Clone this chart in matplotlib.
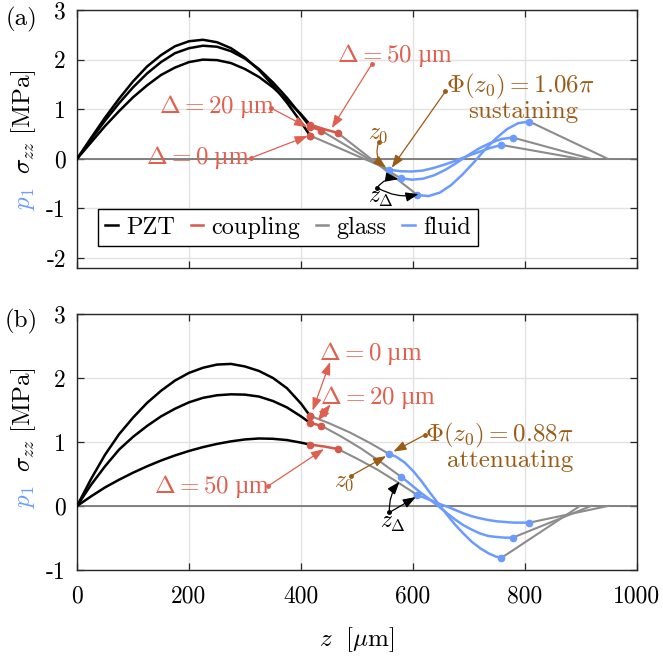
import matplotlib.pyplot as plt
from matplotlib.lines import Line2D

plt.rcParams['font.family'] = ['cmr10', 'DejaVu Serif']
plt.rcParams['mathtext.fontset'] = 'cm'
plt.rcParams['axes.unicode_minus'] = False

# ---------------- data (a) sustaining ----------------
z_pzt = [0, 25, 50, 75, 100, 125, 150, 175, 200, 225, 250, 275, 300, 325, 350, 375, 400, 416]
a_pzt_d0 = [0, 0.42, 0.83, 1.21, 1.56, 1.86, 2.09, 2.27, 2.37, 2.40, 2.35, 2.23, 2.04, 1.79, 1.48, 1.13, 0.74, 0.47]
a_pzt_d20 = [0, 0.39, 0.77, 1.12, 1.44, 1.72, 1.95, 2.13, 2.23, 2.28, 2.26, 2.17, 2.02, 1.81, 1.54, 1.23, 0.88, 0.65]
a_pzt_d50 = [0, 0.33, 0.66, 0.96, 1.24, 1.48, 1.69, 1.84, 1.95, 2.00, 1.99, 1.93, 1.81, 1.65, 1.44, 1.18, 0.90, 0.69]

a_coup_z = [[416, 416], [416, 436], [416, 441, 466]]
a_coup = [[0.47, 0.47], [0.65, 0.57], [0.69, 0.60, 0.52]]

a_glass1_z = [[416, 558], [436, 578], [466, 608]]
a_glass1 = [[0.47, -0.22], [0.57, -0.39], [0.52, -0.73]]

a_fluid_z = [[558, 578, 598, 618, 638, 658, 678, 698, 718, 738, 758],
             [578, 598, 618, 638, 658, 678, 698, 718, 738, 758, 778],
             [608, 628, 648, 668, 688, 708, 728, 748, 768, 788, 808]]
a_fluid = [[-0.22, -0.25, -0.255, -0.235, -0.18, -0.11, -0.03, 0.06, 0.14, 0.22, 0.28],
           [-0.39, -0.42, -0.40, -0.33, -0.22, -0.08, 0.07, 0.21, 0.32, 0.40, 0.43],
           [-0.73, -0.75, -0.68, -0.53, -0.32, -0.08, 0.18, 0.41, 0.60, 0.72, 0.75]]

a_glass2_z = [[758, 898], [778, 918], [808, 948]]
a_glass2 = [[0.28, 0], [0.43, 0], [0.75, 0]]

# ---------------- data (b) attenuating ----------------
b_pzt_d0 = [0, 0.42, 0.80, 1.12, 1.38, 1.61, 1.80, 1.96, 2.08, 2.16, 2.21, 2.22, 2.18, 2.11, 2.00, 1.84, 1.60, 1.41]
b_pzt_d20 = [0, 0.33, 0.62, 0.88, 1.08, 1.25, 1.40, 1.52, 1.62, 1.69, 1.73, 1.745, 1.74, 1.71, 1.64, 1.54, 1.40, 1.30]
b_pzt_d50 = [0, 0.15, 0.29, 0.41, 0.52, 0.62, 0.71, 0.79, 0.86, 0.92, 0.97, 1.01, 1.04, 1.055, 1.05, 1.03, 0.99, 0.96]

b_coup_z = [[416, 416], [416, 436], [416, 441, 466]]
b_coup = [[1.41, 1.41], [1.30, 1.255], [0.96, 0.93, 0.89]]

b_glass1_z = [[416, 451, 487, 522, 558], [436, 471, 507, 542, 578], [466, 501, 537, 572, 608]]
b_glass1 = [[1.41, 1.29, 1.15, 0.99, 0.81], [1.255, 1.09, 0.90, 0.69, 0.46], [0.89, 0.735, 0.565, 0.375, 0.17]]

b_fluid_z = [[558, 570, 585, 600, 615, 630, 645, 660, 675, 690, 705, 720, 735, 748, 758],
             [578, 590, 601, 615, 631, 645, 661, 675, 690, 705, 720, 735, 750, 765, 778],
             [608, 620, 631, 645, 661, 675, 690, 705, 720, 735, 750, 765, 780, 795, 808]]
b_fluid = [[0.81, 0.77, 0.68, 0.55, 0.39, 0.21, 0.04, -0.13, -0.29, -0.43, -0.56, -0.66, -0.74, -0.79, -0.81],
           [0.46, 0.38, 0.30, 0.20, 0.094, 0.0, -0.115, -0.21, -0.30, -0.37, -0.43, -0.47, -0.485, -0.495, -0.495],
           [0.17, 0.13, 0.094, 0.04, -0.01, -0.06, -0.115, -0.16, -0.193, -0.22, -0.24, -0.25, -0.26, -0.26, -0.26]]

b_glass2_z = [[758, 898], [778, 918], [808, 948]]
b_glass2 = [[-0.81, 0], [-0.495, 0], [-0.26, 0]]

x_ticks = [0, 200, 400, 600, 800, 1000]
a_yticks = [-2, -1, 0, 1, 2, 3]
b_yticks = [-1, 0, 1, 2, 3]

c_coup = '#d6584a'
c_glass = '#8c8c8c'
c_fluid = '#6b9bff'
c_red = '#e0604f'
c_brown = '#9a5b16'
um_font = 'Liberation Serif'   # has an upright micro sign


def draw_panel(ax, pzt, coup_z, coup, g1_z, g1, fl_z, fl, g2_z, g2):
    ax.axhline(0, color='#6e6e6e', lw=1.2, zorder=1.5)
    for i in range(3):
        ax.plot(g1_z[i], g1[i], color=c_glass, lw=1.5, zorder=2)
        ax.plot(g2_z[i], g2[i], color=c_glass, lw=1.5, zorder=2)
        ax.plot(z_pzt, pzt[i], color='black', lw=1.8, zorder=3)
        ax.plot(fl_z[i], fl[i], color=c_fluid, lw=1.8, zorder=3,
                marker='o', ms=4.5, markevery=[0, len(fl_z[i]) - 1])
        ax.plot(coup_z[i], coup[i], color=c_coup, lw=1.8, zorder=4,
                marker='o', ms=4.5, markevery=[0, len(coup_z[i]) - 1])


def style_axes(ax, yticks, ylim):
    ax.set_xlim(0, 1000)
    ax.set_ylim(*ylim)
    ax.set_xticks(x_ticks)
    ax.set_yticks(yticks)
    ax.set_yticklabels([str(t) for t in yticks])
    ax.grid(True, color='#e2e2e2', lw=1.0, zorder=0)
    ax.set_axisbelow(True)
    ax.tick_params(direction='in', top=True, right=True, length=5, width=0.9,
                   labelsize=17, color='#262626')
    ax.tick_params(axis='y', pad=8)
    for s in ax.spines.values():
        s.set_color('#262626')
        s.set_linewidth(1.0)


def delta_label(ax, x, y, d):
    ax.text(x, y, r'$\Delta = %d$ µm' % d, color=c_red, fontsize=18,
            family=um_font, ha='center', va='center')


def arrow(ax, tail, head, color, rad=0.0, dot=True, both=False, lw=0.9):
    style = '<|-|>' if both else '-|>'
    ax.annotate('', xy=head, xytext=tail,
                arrowprops=dict(arrowstyle=style + ',head_length=0.55,head_width=0.2',
                                color=color, lw=lw, shrinkA=0, shrinkB=0,
                                mutation_scale=14,
                                connectionstyle='arc3,rad=%g' % rad),
                zorder=6)
    if dot:
        ax.plot(tail[0], tail[1], 'o', color=color, ms=2.5, zorder=6)


fig = plt.figure(figsize=(6.63, 6.56), dpi=100)
W, H = 663, 656
ax1 = fig.add_axes([77 / W, 1 - 268 / H, 560 / W, 258 / H])
ax2 = fig.add_axes([77 / W, 1 - 570 / H, 560 / W, 256 / H])

fs = 18

# ---------- panel (a) ----------
draw_panel(ax1, [a_pzt_d0, a_pzt_d20, a_pzt_d50], a_coup_z, a_coup,
           a_glass1_z, a_glass1, a_fluid_z, a_fluid, a_glass2_z, a_glass2)
style_axes(ax1, a_yticks, (-2.2, 3))
ax1.set_xticklabels([])

delta_label(ax1, 568, 2.08, 50)
delta_label(ax1, 249, 1.05, 20)
delta_label(ax1, 216, 0.03, 0)
arrow(ax1, (527, 1.92), (455, 0.62), c_red)
arrow(ax1, (347, 1.02), (411, 0.64), c_red)
arrow(ax1, (311, 0.02), (412, 0.46), c_red)

ax1.text(792, 1.46, r'$\Phi(z_0) = 1.06\pi$', color=c_brown, fontsize=fs, ha='center', va='center')
ax1.text(797, 0.95, 'sustaining', color=c_brown, fontsize=fs, ha='center', va='center')
arrow(ax1, (658, 1.36), (562, -0.18), c_brown)
ax1.text(538, 0.50, r'$z_0$', color=c_brown, fontsize=17, ha='center', va='center')
arrow(ax1, (538.6, 0.33), (552, -0.18), c_brown, rad=0.35)

ax1.text(543, -0.78, r'$z_\Delta$', color='black', fontsize=17, ha='center', va='center')
arrow(ax1, (536, -0.58), (574, -0.41), 'black', rad=-0.3)
arrow(ax1, (536, -0.58), (610, -0.71), 'black', rad=0.2, dot=False)

handles = [Line2D([], [], color='black', lw=1.8),
           Line2D([], [], color=c_coup, lw=1.8),
           Line2D([], [], color=c_glass, lw=1.8),
           Line2D([], [], color=c_fluid, lw=1.8)]
leg = ax1.legend(handles, ['PZT', 'coupling', 'glass', 'fluid'], ncol=4,
                 loc='lower left', bbox_to_anchor=(0.0376, 0.085), borderaxespad=0,
                 fontsize=17.5, handlelength=0.5, handletextpad=0.35, columnspacing=0.65,
                 borderpad=0.3, fancybox=False, framealpha=1, edgecolor='black')
leg.get_frame().set_linewidth(1.0)
leg.set_zorder(7)

# ---------- panel (b) ----------
draw_panel(ax2, [b_pzt_d0, b_pzt_d20, b_pzt_d50], b_coup_z, b_coup,
           b_glass1_z, b_glass1, b_fluid_z, b_fluid, b_glass2_z, b_glass2)
style_axes(ax2, b_yticks, (-1, 3))
ax2.tick_params(axis='x', pad=11)
ax2.set_xlabel(r'$z\ \ [\mu\mathrm{m}]$', fontsize=18, labelpad=13)

delta_label(ax2, 525, 2.39, 0)
delta_label(ax2, 538, 1.70, 20)
delta_label(ax2, 240, 0.31, 50)
arrow(ax2, (452, 2.25), (420.6, 1.49), c_red, dot=False, both=True)
arrow(ax2, (453, 1.59), (429.5, 1.33), c_red, dot=False, both=True)
arrow(ax2, (341, 0.31), (441, 0.89), c_red)

ax2.text(754, 1.11, r'$\Phi(z_0) = 0.88\pi$', color=c_brown, fontsize=fs, ha='center', va='center')
ax2.text(774, 0.71, 'attenuating', color=c_brown, fontsize=fs, ha='center', va='center')
arrow(ax2, (621, 1.11), (565, 0.85), c_brown)
ax2.text(477, 0.37, r'$z_0$', color=c_brown, fontsize=17, ha='center', va='center')
arrow(ax2, (489, 0.47), (552, 0.78), c_brown)

ax2.text(565, -0.26, r'$z_\Delta$', color='black', fontsize=17, ha='center', va='center')
arrow(ax2, (558, -0.10), (576, 0.38), 'black', rad=-0.2)
arrow(ax2, (558, -0.10), (605, 0.14), 'black', dot=False)

# ---------- y labels (black sigma part, blue p1 just below it) ----------
fig.canvas.draw()
renderer = fig.canvas.get_renderer()
for centre in [122, 420]:
    t = fig.text(24 / W, 1 - centre / H, r'$\sigma_{zz}\ [\mathrm{MPa}]$', rotation=90,
                 fontsize=18, ha='center', va='center', color='black')
    bb = t.get_window_extent(renderer)
    fig.text(26 / W, (bb.y0 - 13) / H, r'$p_1$', rotation=90,
             fontsize=18, ha='center', va='top', color=c_fluid)

fig.text(21 / W, 1 - 19 / H, '(a)', fontsize=18, ha='center', va='center')
fig.text(21 / W, 1 - 321 / H, '(b)', fontsize=18, ha='center', va='center')

fig.savefig('out.png', dpi=100)
